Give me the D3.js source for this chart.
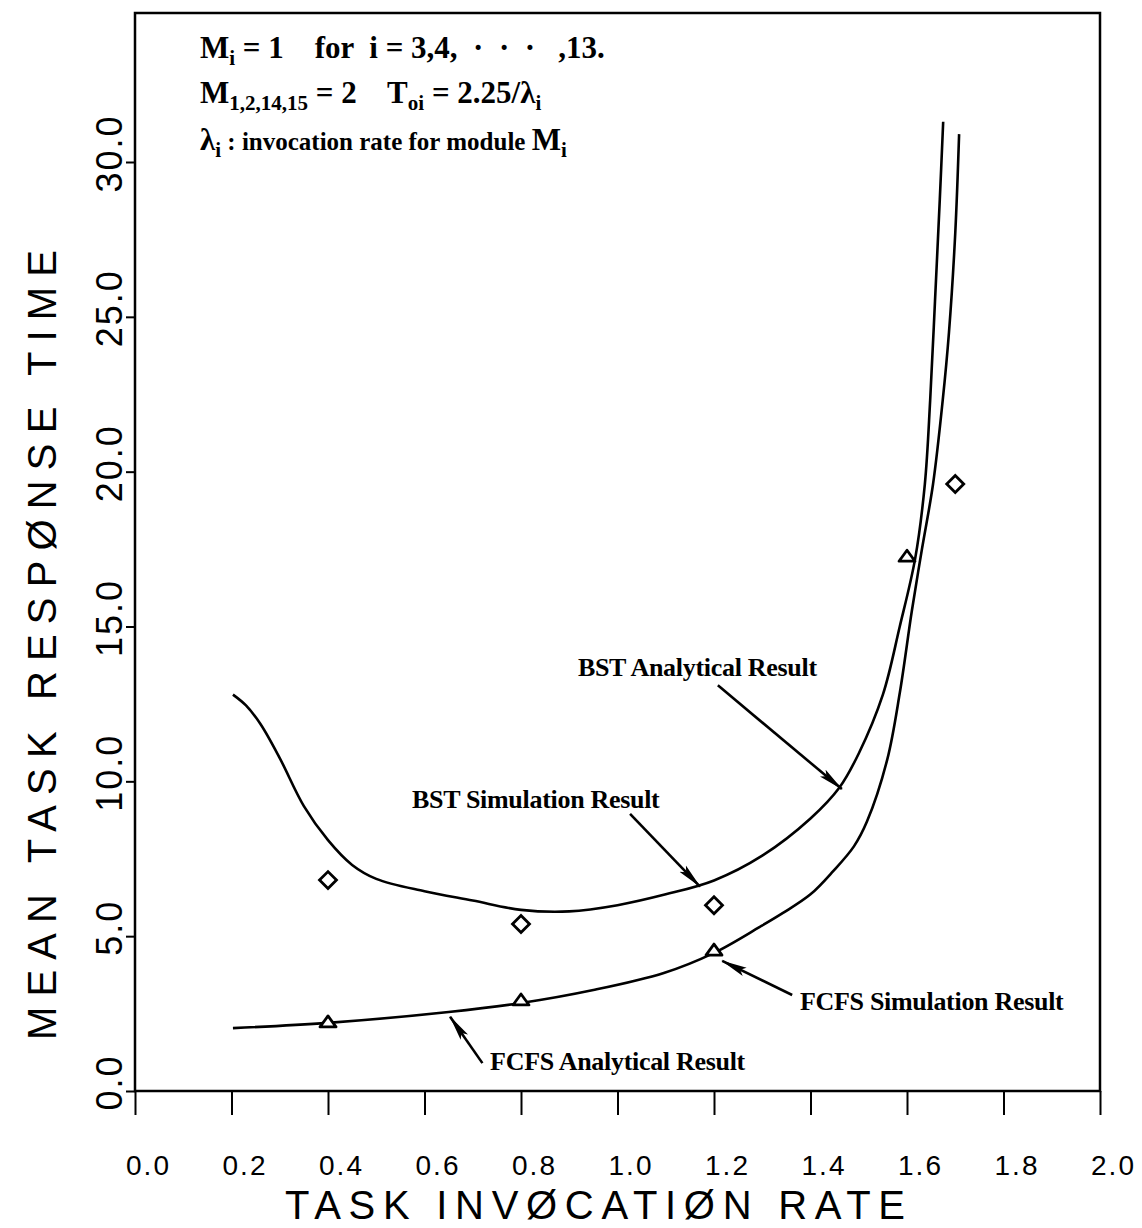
<!DOCTYPE html>
<html lang="en">
<head>
    <meta charset="UTF-8">
    <title>Mean task response time</title>
    <script src="https://cdn.jsdelivr.net/npm/d3@7"></script>
    <style>
      body { margin: 0; background: #fff; }
    </style>
</head>
<body>
    <script>
      // analytical curves [rate, time]
      const bstAnalytical = [
        [0.203, 12.8], [0.23, 12.45], [0.26, 11.85], [0.3, 10.75], [0.35, 9.2],
        [0.4, 8.1], [0.45, 7.3], [0.5, 6.85], [0.6, 6.45], [0.7, 6.15],
        [0.8, 5.85], [0.9, 5.8], [1.0, 6.0], [1.1, 6.35], [1.2, 6.8],
        [1.3, 7.6], [1.4, 8.8], [1.46, 9.8], [1.5, 10.9], [1.55, 12.8],
        [1.585, 15.0], [1.617, 17.2], [1.637, 19.6], [1.648, 22.3], [1.658, 25.5],
        [1.668, 28.8], [1.675, 31.3]
      ];
      const fcfsAnalytical = [
        [0.203, 2.03], [0.4, 2.2], [0.65, 2.55], [0.8, 2.84], [0.95, 3.26],
        [1.096, 3.81], [1.2, 4.46], [1.295, 5.3], [1.343, 5.75], [1.4, 6.35],
        [1.447, 7.1], [1.49, 7.9], [1.517, 8.7], [1.559, 10.7], [1.585, 12.85],
        [1.61, 15.5], [1.631, 17.5], [1.654, 19.6], [1.674, 22.3], [1.687, 24.5],
        [1.7, 27.7], [1.708, 30.9]
      ];
      // simulation points
      const bstSimulation = [[0.4, 6.81], [0.8, 5.39], [1.2, 6.0], [1.7, 19.6]];
      const fcfsSimulation = [[0.4, 2.23], [0.8, 2.94], [1.2, 4.55], [1.6, 17.27]];

      const xTicks = [0, 0.2, 0.4, 0.6, 0.8, 1.0, 1.2, 1.4, 1.6, 1.8, 2.0];
      const yTicks = [0, 5, 10, 15, 20, 25, 30];

      // callouts: label, text anchor [x,y], arrow tail, arrow tip (data units)
      const callouts = [
        { label: "BST Analytical Result",  text: [0.918, 13.4], tail: [1.208, 13.1], tip: [1.465, 9.75] },
        { label: "BST Simulation Result",  text: [0.574, 9.14], tail: [1.026, 8.95], tip: [1.171, 6.6] },
        { label: "FCFS Simulation Result", text: [1.378, 2.62], tail: [1.362, 3.1],  tip: [1.217, 4.2] },
        { label: "FCFS Analytical Result", text: [0.736, 0.68], tail: [0.72, 0.9],   tip: [0.653, 2.4] }
      ];

      const w = 1142;
      const h = 1228;
      const left = 135, right = 1100, bottom = 1091, frameTop = 13;
      const plotFont = "'Liberation Sans', 'DejaVu Sans', sans-serif";
      const serif = "'Liberation Serif', 'DejaVu Serif', serif";

      const xScale = d3.scaleLinear().domain([0, 2]).range([left, right]);
      const yScale = d3.scaleLinear().domain([0, 30]).range([bottom, 162]);

      const svg = d3.select("body")
                    .append("svg")
                    .attr("width", w)
                    .attr("height", h);

      svg.append("rect")
         .attr("width", w).attr("height", h).attr("fill", "#fff");

      svg.append("defs").append("marker")
         .attr("id", "head")
         .attr("viewBox", "0 -5 26 10")
         .attr("refX", 25).attr("refY", 0)
         .attr("markerWidth", 26).attr("markerHeight", 10)
         .attr("markerUnits", "userSpaceOnUse")
         .attr("orient", "auto")
         .append("path")
         .attr("d", "M0,-4.5L26,0L0,4.5L5,0Z")
         .attr("fill", "#000");

      // frame
      svg.append("rect")
         .attr("x", left).attr("y", frameTop)
         .attr("width", right - left).attr("height", bottom - frameTop)
         .attr("fill", "none").attr("stroke", "#000").attr("stroke-width", 2.5);

      // axes
      svg.append("g")
         .attr("transform", `translate(0,${bottom})`)
         .call(d3.axisBottom(xScale).tickValues(xTicks).tickSize(24).tickFormat(d3.format(".1f")))
         .attr("font-family", plotFont).attr("font-size", 28)
         .call(g => g.select(".domain").remove())
         .call(g => g.selectAll(".tick line").attr("stroke-width", 2))
         .call(g => g.selectAll(".tick text").attr("y", 84).attr("dy", 0).attr("dx", 13)
                      .attr("letter-spacing", 2));

      svg.append("g")
         .attr("transform", `translate(${left},0)`)
         .call(d3.axisLeft(yScale).tickValues(yTicks).tickSize(9).tickFormat(d3.format(".1f")))
         .attr("font-family", plotFont).attr("font-size", 36)
         .call(g => g.select(".domain").remove())
         .call(g => g.selectAll(".tick line").attr("stroke-width", 2))
         .call(g => g.selectAll(".tick text")
                      .attr("x", 0).attr("dy", 0)
                      .attr("text-anchor", "middle")
                      .attr("letter-spacing", 2)
                      .attr("transform", "translate(-13,-9) rotate(-90)"));

      // axis titles
      svg.append("text")
         .attr("transform", "translate(56,645) rotate(-90)")
         .attr("text-anchor", "middle")
         .attr("font-family", plotFont).attr("font-size", 40)
         .attr("textLength", 790).attr("lengthAdjust", "spacing")
         .text("MEAN TASK RESPØNSE TIME");

      svg.append("text")
         .attr("x", 595).attr("y", 1219)
         .attr("text-anchor", "middle")
         .attr("font-family", plotFont).attr("font-size", 40)
         .attr("textLength", 620).attr("lengthAdjust", "spacing")
         .text("TASK INVØCATIØN RATE");

      // curves
      const line = d3.line()
                     .x(d => xScale(d[0]))
                     .y(d => yScale(d[1]))
                     .curve(d3.curveCatmullRom.alpha(0.5));

      svg.selectAll("path.curve")
         .data([bstAnalytical, fcfsAnalytical])
         .enter()
         .append("path")
         .attr("class", "curve")
         .attr("d", line)
         .attr("fill", "none")
         .attr("stroke", "#000")
         .attr("stroke-width", 2.6);

      // simulation markers
      svg.selectAll("rect.bst")
         .data(bstSimulation)
         .enter()
         .append("rect")
         .attr("class", "bst")
         .attr("x", -6).attr("y", -6)
         .attr("width", 12).attr("height", 12)
         .attr("transform", d => `translate(${xScale(d[0])},${yScale(d[1])}) rotate(45)`)
         .attr("fill", "#fff").attr("stroke", "#000").attr("stroke-width", 2.8);

      svg.selectAll("path.fcfs")
         .data(fcfsSimulation)
         .enter()
         .append("path")
         .attr("class", "fcfs")
         .attr("d", "M-8,5L0,-6L8,5Z")
         .attr("transform", d => `translate(${xScale(d[0])},${yScale(d[1])})`)
         .attr("fill", "#fff").attr("stroke", "#000").attr("stroke-width", 2.8)
         .attr("stroke-linejoin", "round");

      // callouts
      svg.selectAll("line.arrow")
         .data(callouts)
         .enter()
         .append("line")
         .attr("class", "arrow")
         .attr("x1", d => xScale(d.tail[0])).attr("y1", d => yScale(d.tail[1]))
         .attr("x2", d => xScale(d.tip[0])).attr("y2", d => yScale(d.tip[1]))
         .attr("stroke", "#000").attr("stroke-width", 2.6)
         .attr("marker-end", "url(#head)");

      svg.selectAll("text.callout")
         .data(callouts)
         .enter()
         .append("text")
         .attr("class", "callout")
         .attr("x", d => xScale(d.text[0])).attr("y", d => yScale(d.text[1]))
         .attr("font-family", serif).attr("font-size", 26).attr("font-weight", "bold")
         .attr("letter-spacing", -0.3)
         .text(d => d.label);

      // parameter note, top left
      const noteLines = [
        { y: 58, parts: [["M"], ["i", "sub"], [" = 1    for  i = 3,4,  \u00b7  \u00b7  \u00b7   ,13."]] },
        { y: 103, parts: [["M"], ["1,2,14,15", "sub"], [" = 2    T"], ["oi", "sub"], [" = 2.25/\u03bb"], ["i", "sub"]] },
        { y: 150, parts: [["\u03bb"], ["i", "sub"], [" : invocation rate for module ", "small"], ["M"], ["i", "sub"]] }
      ];

      noteLines.forEach(l => {
        const t = svg.append("text")
                     .attr("x", 200).attr("y", l.y)
                     .attr("font-family", serif).attr("font-size", 31)
                     .attr("font-weight", "bold")
                     .attr("xml:space", "preserve")
                     .style("white-space", "pre");
        let shifted = false;
        l.parts.forEach(p => {
          const s = t.append("tspan").text(p[0]);
          if (p[1] === "sub") {
            s.attr("font-size", 21).attr("dy", shifted ? 0 : 7);
            shifted = true;
          } else {
            if (shifted) s.attr("dy", -7);
            shifted = false;
            if (p[1] === "small") s.attr("font-size", 25);
          }
        });
      });
    </script>
</body>
</html>
